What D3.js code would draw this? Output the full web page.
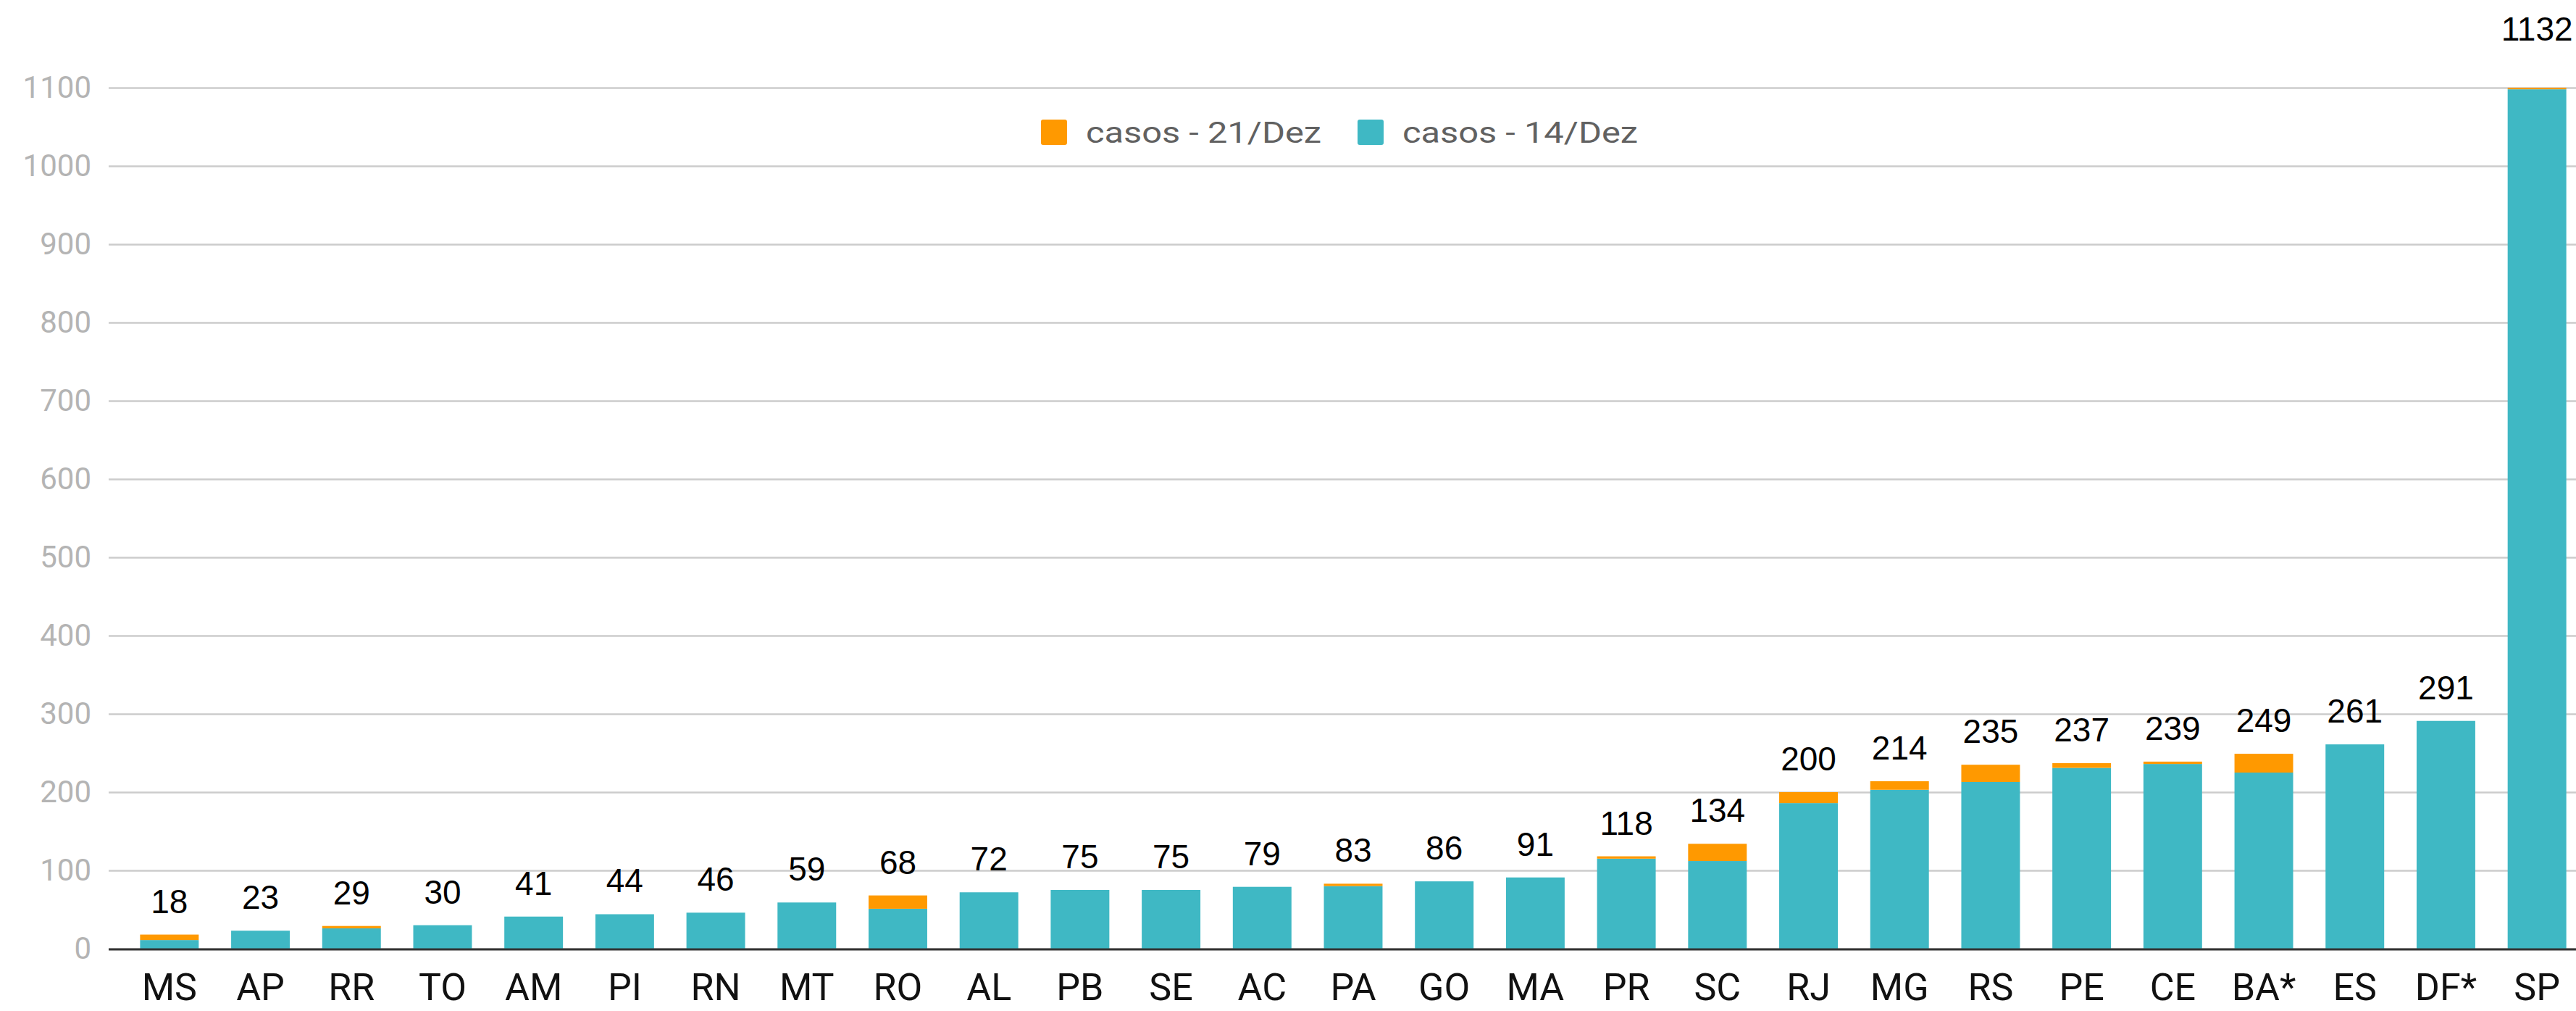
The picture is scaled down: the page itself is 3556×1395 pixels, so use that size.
<!DOCTYPE html>
<html>
<head>
<meta charset="utf-8">
<script src="https://cdn.jsdelivr.net/npm/d3@7"></script>
<style>
  html, body { margin: 0; padding: 0; background: #fff; }
  svg { display: block; }
</style>
</head>
<body>
<svg id="chart"></svg>
<script>
var states = ['MS', 'AP', 'RR', 'TO', 'AM', 'PI', 'RN', 'MT', 'RO', 'AL', 'PB', 'SE', 'AC', 'PA', 'GO', 'MA', 'PR', 'SC', 'RJ', 'MG', 'RS', 'PE', 'CE', 'BA*', 'ES', 'DF*', 'SP']
// cases on 14/Dez (bottom of each bar)
var cases14 = [11, 23, 26, 30, 41, 44, 46, 59, 51, 72, 75, 75, 79, 80, 86, 91, 115, 112, 186, 203, 213, 231, 236, 225, 261, 291, 1098]
// new cases up to 21/Dez (stacked on top)
var cases21 = [7, 0, 3, 0, 0, 0, 0, 0, 17, 0, 0, 0, 0, 3, 0, 0, 3, 22, 14, 11, 22, 6, 3, 24, 0, 0, 34]
var yTicks = [0, 100, 200, 300, 400, 500, 600, 700, 800, 900, 1000, 1100]
var legendItems = ['casos - 21/Dez', 'casos - 14/Dez']

;(function () {
  'use strict'

  var width = 3556
  var height = 1395
  var plot = { left: 150, right: 3556, top: 121, bottom: 1309 }
  var colors = { '14': '#3fb8c4', '21': '#ff9900' }

  var rows = states.map(function (s, i) {
    return { state: s, a: cases14[i], b: cases21[i], total: cases14[i] + cases21[i] }
  })

  var svg = d3.select('#chart')
    .attr('width', width)
    .attr('height', height)

  var x = d3.scaleBand()
    .domain(states)
    .range([171, 3565])
    .paddingInner(0.356)
    .paddingOuter(0.178)

  var y = d3.scaleLinear()
    .domain([0, 1100])
    .range([plot.bottom, plot.top])

  // gridlines + y labels
  var yAxis = svg.append('g')
    .attr('transform', 'translate(' + plot.left + ',0)')
    .call(d3.axisLeft(y)
      .tickValues(yTicks)
      .tickSize(-(plot.right - plot.left))
      .tickPadding(24)
      .tickFormat(d3.format('d')))
  yAxis.select('.domain').remove()
  yAxis.selectAll('.tick line')
    .attr('stroke', '#cccccc')
    .attr('stroke-width', 2.5)
  yAxis.selectAll('.tick text')
    .attr('fill', '#b4b4b4')
    .style('font-family', 'Roboto, sans-serif')
    .style('font-size', '42px')

  svg.append('clipPath')
    .attr('id', 'plot-clip')
    .append('rect')
    .attr('x', 0)
    .attr('y', plot.top)
    .attr('width', width)
    .attr('height', plot.bottom - plot.top + 4)

  var bars = svg.append('g').attr('clip-path', 'url(#plot-clip)')

  bars.selectAll('rect.s14')
    .data(rows)
    .enter().append('rect')
    .attr('class', 's14')
    .attr('x', function (d) { return x(d.state) })
    .attr('width', x.bandwidth())
    .attr('y', function (d) { return y(d.a) })
    .attr('height', function (d) { return y(0) - y(d.a) })
    .attr('fill', colors['14'])

  bars.selectAll('rect.s21')
    .data(rows.filter(function (d) { return d.b > 0 }))
    .enter().append('rect')
    .attr('class', 's21')
    .attr('x', function (d) { return x(d.state) })
    .attr('width', x.bandwidth())
    .attr('y', function (d) { return y(d.total) })
    .attr('height', function (d) { return y(d.a) - y(d.total) })
    .attr('fill', colors['21'])

  // baseline
  svg.append('line')
    .attr('x1', plot.left)
    .attr('x2', plot.right)
    .attr('y1', y(0) + 1)
    .attr('y2', y(0) + 1)
    .attr('stroke', '#333333')
    .attr('stroke-width', 3)

  // x labels
  var xAxis = svg.append('g')
    .attr('transform', 'translate(0,' + plot.bottom + ')')
    .call(d3.axisBottom(x).tickSize(0))
  xAxis.select('.domain').remove()
  xAxis.selectAll('.tick text')
    .attr('y', 71)
    .attr('dy', 0)
    .attr('fill', '#111111')
    .style('font-family', 'Roboto, sans-serif')
    .style('font-size', '52px')

  // totals above bars
  svg.append('g').selectAll('text')
    .data(rows)
    .enter().append('text')
    .attr('x', function (d) { return x(d.state) + x.bandwidth() / 2 })
    .attr('y', function (d) { return y(d.total) - 30 })
    .attr('text-anchor', 'middle')
    .attr('fill', '#000000')
    .style('font-family', '"Liberation Sans", Arial, sans-serif')
    .style('font-size', '46px')
    .text(function (d) { return d.total })

  // legend (the reference text is drawn a bit wide, so stretch it)
  var legend = svg.append('g')
  var legendColors = [colors['21'], colors['14']]
  var cursor = 0
  legendItems.forEach(function (label, i) {
    var item = legend.append('g').attr('transform', 'translate(' + cursor + ',0)')
    item.append('rect')
      .attr('x', 0)
      .attr('y', -17)
      .attr('width', 36)
      .attr('height', 35)
      .attr('rx', 3)
      .attr('fill', legendColors[i])
    var t = item.append('text')
      .attr('x', 62)
      .attr('y', 0)
      .attr('dy', '0.36em')
      .attr('fill', '#616161')
      .style('font-family', 'Roboto, sans-serif')
      .style('font-size', '41px')
      .text(label)
    var len = t.node().getComputedTextLength() * 1.19
    t.attr('textLength', len).attr('lengthAdjust', 'spacingAndGlyphs')
    cursor += 62 + len + 50
  })
  var legendWidth = cursor - 50
  legend.attr('transform', 'translate(' + ((plot.left + plot.right) / 2 - legendWidth / 2 - 4) + ',182)')
})()
</script>
</body>
</html>
